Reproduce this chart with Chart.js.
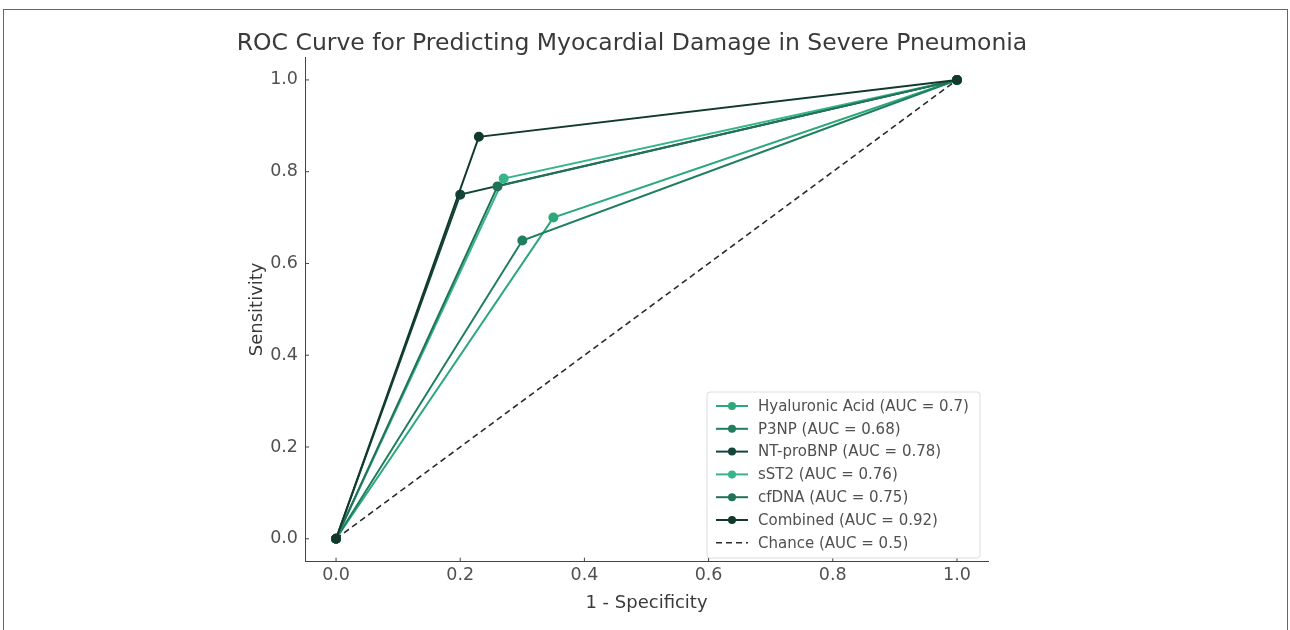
<!DOCTYPE html>
<html lang="en">
<head>
  <meta charset="UTF-8">
  <title>ROC Curve</title>
  <script src="https://cdn.jsdelivr.net/npm/chart.js@4"></script>
  <style>
    body { margin: 0; background: #fff; overflow: hidden; }
    #frame { position: absolute; left: 3px; top: 9px; width: 1283px; height: 700px; border: 1.5px solid #666; }
    #chart { position: absolute; left: 0; top: 0; }
  </style>
</head>
<body>
  <div id="frame"></div>
  <canvas id="chart" width="1290" height="630"></canvas>
  <script>
    // Données
    const titleText = 'ROC Curve for Predicting Myocardial Damage in Severe Pneumonia';
    const labels = ['Hyaluronic Acid (AUC = 0.7)', 'P3NP (AUC = 0.68)', 'NT-proBNP (AUC = 0.78)',
                    'sST2 (AUC = 0.76)', 'cfDNA (AUC = 0.75)', 'Combined (AUC = 0.92)'];
    const fpr = [
      [0, 0.35, 1],
      [0, 0.30, 1],
      [0, 0.20, 1],
      [0, 0.27, 1],
      [0, 0.26, 1],
      [0, 0.23, 1]
    ];
    const tpr = [
      [0, 0.70, 1],
      [0, 0.65, 1],
      [0, 0.75, 1],
      [0, 0.785, 1],
      [0, 0.768, 1],
      [0, 0.876, 1]
    ];
    const chanceLabel = 'Chance (AUC = 0.5)';
    const chanceX = [0, 1];
    const chanceY = [0, 1];
    const tickValues = [0, 0.2, 0.4, 0.6, 0.8, 1.0];
    const colors = ['#2ca87a', '#1f7f5c', '#13453a', '#36b58b', '#217357', '#113a2d'];

    const n = labels.length + 1;
    const datasets = labels.map((lab, i) => ({
      label: lab,
      data: fpr[i].map((x, j) => ({x: x, y: tpr[i][j]})),
      showLine: true,
      borderColor: colors[i],
      backgroundColor: colors[i],
      borderWidth: 2,
      pointRadius: 4,
      pointHoverRadius: 4,
      order: n - 1 - i
    }));
    datasets.push({
      label: chanceLabel,
      data: chanceX.map((x, j) => ({x: x, y: chanceY[j]})),
      showLine: true,
      borderColor: '#2b2b2b',
      backgroundColor: '#2b2b2b',
      borderWidth: 1.6,
      borderDash: [6, 4],
      pointRadius: 0,
      order: 0
    });

    // Titre, graduations vers l'intérieur et légende dans la zone du graphique
    const extras = {
      id: 'extras',
      afterDatasetsDraw(chart) {
        const ctx = chart.ctx;
        const area = chart.chartArea;
        ctx.save();

        ctx.fillStyle = '#3a3a3a';
        ctx.font = '23.5px "DejaVu Sans"';
        ctx.textAlign = 'center';
        ctx.textBaseline = 'middle';
        ctx.fillText(titleText, 632, 44);

        ctx.strokeStyle = '#444';
        ctx.lineWidth = 1;
        ctx.beginPath();
        chart.scales.x.ticks.forEach(t => {
          const px = chart.scales.x.getPixelForValue(t.value);
          ctx.moveTo(px, area.bottom);
          ctx.lineTo(px, area.bottom - 4);
        });
        chart.scales.y.ticks.forEach(t => {
          const py = chart.scales.y.getPixelForValue(t.value);
          ctx.moveTo(area.left, py);
          ctx.lineTo(area.left + 4, py);
        });
        ctx.stroke();

        const bx = 707, by = 392, bw = 273, bh = 166;
        ctx.textAlign = 'left';
        ctx.fillStyle = 'rgba(255,255,255,0.85)';
        ctx.strokeStyle = '#dddddd';
        ctx.beginPath();
        ctx.roundRect(bx, by, bw, bh, 3);
        ctx.fill();
        ctx.stroke();
        ctx.font = '15px "DejaVu Sans"';
        chart.data.datasets.forEach((ds, i) => {
          const y = 406 + i * 22.8;
          ctx.strokeStyle = ds.borderColor;
          ctx.lineWidth = ds.borderWidth;
          ctx.setLineDash(ds.borderDash || []);
          ctx.beginPath();
          ctx.moveTo(716, y);
          ctx.lineTo(748, y);
          ctx.stroke();
          ctx.setLineDash([]);
          if (ds.pointRadius > 0) {
            ctx.fillStyle = ds.backgroundColor;
            ctx.beginPath();
            ctx.arc(732, y, 4, 0, Math.PI * 2);
            ctx.fill();
          }
          ctx.fillStyle = '#505050';
          ctx.fillText(ds.label, 758, y + 1);
        });
        ctx.restore();
      }
    };

    const fixTicks = scale => { scale.ticks = tickValues.map(v => ({value: v})); };

    new Chart(document.getElementById('chart').getContext('2d'), {
      type: 'scatter',
      data: {datasets: datasets},
      options: {
        responsive: false,
        animation: false,
        layout: {padding: {left: 247, right: 302, top: 57, bottom: 12}},
        plugins: {
          legend: {display: false},
          tooltip: {enabled: false},
          title: {display: false}
        },
        scales: {
          x: {
            type: 'linear',
            min: -0.05,
            max: 1.05,
            afterBuildTicks: fixTicks,
            grid: {display: false, drawTicks: false},
            border: {display: true, color: '#444', width: 1},
            ticks: {color: '#505050', padding: 3.5, font: {family: 'DejaVu Sans', size: 17.5}, callback: v => v.toFixed(1)},
            title: {display: true, text: '1 - Specificity', color: '#3a3a3a',
                    font: {family: 'DejaVu Sans', size: 18}, padding: {top: 2.7, bottom: 4}}
          },
          y: {
            type: 'linear',
            min: -0.05,
            max: 1.05,
            afterBuildTicks: fixTicks,
            afterFit: s => { s.width = 58; },
            grid: {display: false, drawTicks: false},
            border: {display: true, color: '#444', width: 1},
            ticks: {color: '#505050', padding: 7, font: {family: 'DejaVu Sans', size: 17.5}, callback: v => v.toFixed(1)},
            title: {display: true, text: 'Sensitivity', color: '#3a3a3a',
                    font: {family: 'DejaVu Sans', size: 18}, padding: {top: 0, bottom: 0}}
          }
        }
      },
      plugins: [extras]
    });
  </script>
</body>
</html>
